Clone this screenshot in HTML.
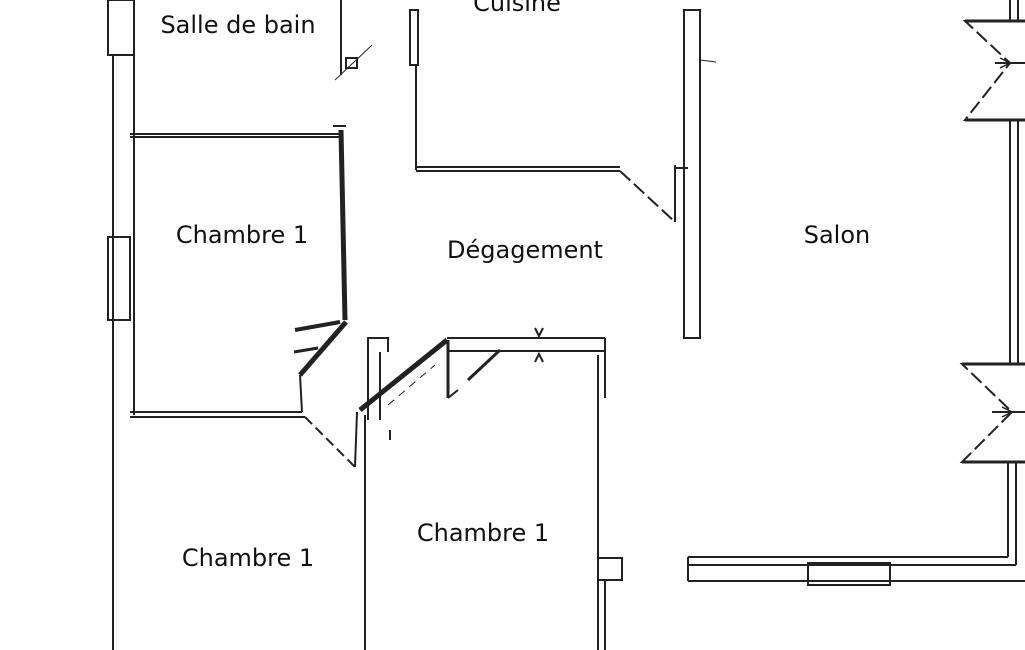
<!DOCTYPE html>
<html><head><meta charset="utf-8"><style>
html,body{margin:0;padding:0;background:#fff;width:1025px;height:650px;overflow:hidden}
svg{display:block}
text{font-family:"DejaVu Sans","Liberation Sans",sans-serif;font-size:24px;fill:#111;text-anchor:middle}
</style></head><body>
<svg width="1025" height="650" viewBox="0 0 1025 650" xmlns="http://www.w3.org/2000/svg">
<g fill="none" stroke="#222" stroke-width="2">
<line x1="113" y1="55" x2="113" y2="650"/>
<line x1="134" y1="55" x2="134" y2="415"/>
<rect x="108" y="0" width="26" height="55"/>
<rect x="108" y="237" width="22" height="83"/>
<line x1="130" y1="134" x2="340" y2="134"/>
<line x1="130" y1="137" x2="340" y2="137"/>
<line x1="341" y1="0" x2="341" y2="75"/>
<rect x="346" y="58" width="11" height="10"/>
<line x1="335" y1="80" x2="372" y2="45" stroke-width="1"/>
<line x1="341" y1="130" x2="345" y2="320" stroke-width="5"/>
<line x1="333" y1="126" x2="346" y2="126"/>
<line x1="346" y1="322" x2="300" y2="375" stroke-width="5"/>
<line x1="295" y1="330" x2="340" y2="322" stroke-width="4"/>
<line x1="294" y1="352" x2="318" y2="348" stroke-width="3"/>
<line x1="300" y1="375" x2="302" y2="412"/>
<line x1="130" y1="412" x2="302" y2="412"/>
<line x1="130" y1="417" x2="305" y2="417"/>
<line x1="305" y1="417" x2="355" y2="467" stroke-dasharray="10,5"/>
<line x1="355" y1="467" x2="357" y2="412"/>
<line x1="365" y1="415" x2="365" y2="650"/>
<polyline points="368,420 368,338 388,338 388,352"/>
<line x1="380" y1="352" x2="380" y2="420"/>
<line x1="390" y1="430" x2="390" y2="440"/>
<line x1="360" y1="410" x2="447" y2="340" stroke-width="5"/>
<line x1="388" y1="405" x2="435" y2="365" stroke-dasharray="8,6" stroke-width="1"/>
<line x1="447" y1="338" x2="605" y2="338"/>
<line x1="447" y1="351" x2="605" y2="351"/>
<line x1="605" y1="338" x2="605" y2="351"/>
<line x1="448" y1="340" x2="448" y2="398" stroke-width="3"/>
<line x1="448" y1="398" x2="458" y2="390"/>
<line x1="468" y1="380" x2="500" y2="350" stroke-width="3"/>
<path d="M535,328 L539,336 L543,328 M535,362 L539,354 L543,362"/>
<line x1="598" y1="355" x2="598" y2="650"/>
<line x1="605" y1="351" x2="605" y2="398"/>
<line x1="605" y1="580" x2="605" y2="650"/>
<rect x="598" y="558" width="24" height="22"/>
<rect x="410" y="10" width="8" height="55"/>
<line x1="416" y1="65" x2="416" y2="170"/>
<line x1="416" y1="167" x2="620" y2="167"/>
<line x1="416" y1="171" x2="620" y2="171"/>
<line x1="620" y1="171" x2="675" y2="222" stroke-dasharray="14,5"/>
<line x1="675" y1="165" x2="675" y2="222"/>
<line x1="675" y1="168" x2="688" y2="168"/>
<rect x="684" y="10" width="16" height="328"/>
<line x1="700" y1="60" x2="716" y2="62" stroke-width="1"/>
<!-- right wall -->
<line x1="1010" y1="0" x2="1010" y2="20"/>
<line x1="1018" y1="0" x2="1018" y2="20"/>
<line x1="1010" y1="120" x2="1010" y2="364"/>
<line x1="1018" y1="120" x2="1018" y2="364"/>
<line x1="1008" y1="462" x2="1008" y2="557"/>
<line x1="1016" y1="462" x2="1016" y2="565"/>
<polyline points="1025,21 965,21 1010,63 965,120 1025,120" stroke-dasharray="14,5"/>
<line x1="965" y1="21" x2="1025" y2="21" stroke-width="3"/>
<line x1="965" y1="120" x2="1025" y2="120" stroke-width="3"/>
<line x1="995" y1="63" x2="1025" y2="63"/>
<path d="M1000,58 L1010,63 L1000,68" stroke-width="1.5"/>
<polyline points="1025,364 962,364 1012,412 962,462 1025,462" stroke-dasharray="14,5"/>
<line x1="962" y1="364" x2="1025" y2="364" stroke-width="3"/>
<line x1="962" y1="462" x2="1025" y2="462" stroke-width="3"/>
<line x1="992" y1="412" x2="1025" y2="412"/>
<path d="M1002,407 L1012,412 L1002,417" stroke-width="1.5"/>
<line x1="688" y1="557" x2="1008" y2="557"/>
<line x1="688" y1="565" x2="1016" y2="565"/>
<line x1="688" y1="581" x2="1025" y2="581"/>
<line x1="688" y1="557" x2="688" y2="581"/>
<rect x="808" y="563" width="82" height="22"/>
</g>
<text x="238" y="33">Salle de bain</text>
<text x="517" y="11">Cuisine</text>
<text x="242" y="243">Chambre 1</text>
<text x="525" y="258">Dégagement</text>
<text x="837" y="243">Salon</text>
<text x="248" y="566">Chambre 1</text>
<text x="483" y="541">Chambre 1</text>
</svg>
</body></html>
